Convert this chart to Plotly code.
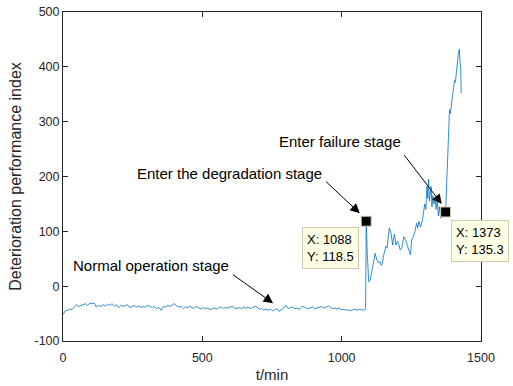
import plotly.graph_objects as go

# ---------------- data ----------------
t_normal = [0, 8, 16, 24, 32, 40, 48, 56, 64, 72,
            80, 88, 96, 104, 112, 120, 128, 136, 144, 152,
            160, 168, 176, 184, 192, 200, 208, 216, 224, 232,
            240, 248, 256, 264, 272, 280, 288, 296, 304, 312,
            320, 328, 336, 344, 352, 360, 368, 376, 384, 392,
            400, 408, 416, 424, 432, 440, 448, 456, 464, 472,
            480, 488, 496, 504, 512, 520, 528, 536, 544, 552,
            560, 568, 576, 584, 592, 600, 608, 616, 624, 632,
            640, 648, 656, 664, 672, 680, 688, 696, 704, 712,
            720, 728, 736, 744, 752, 760, 768, 776, 784, 792,
            800, 808, 816, 824, 832, 840, 848, 856, 864, 872,
            880, 888, 896, 904, 912, 920, 928, 936, 944, 952,
            960, 968, 976, 984, 992, 1000, 1008, 1016, 1024, 1032,
            1040, 1048, 1056, 1064, 1072, 1080, 1086]
v_normal = [-52, -45, -44, -42, -43, -38, -34, -37, -35, -33,
            -32, -35, -31, -32, -31, -38, -35, -37, -34, -36,
            -33, -35, -32, -36, -34, -39, -35, -37, -36, -34,
            -39, -37, -35, -38, -36, -39, -37, -38, -35, -37,
            -39, -37, -41, -39, -44, -37, -38, -35, -37, -34,
            -32, -36, -38, -37, -41, -38, -39, -36, -40, -39,
            -37, -40, -42, -39, -41, -40, -43, -41, -40, -42,
            -39, -38, -41, -39, -40, -38, -37, -40, -41, -39,
            -41, -38, -40, -38, -41, -39, -37, -38, -42, -41,
            -43, -42, -44, -42, -45, -43, -41, -46, -43, -40,
            -35, -41, -39, -38, -41, -40, -42, -38, -37, -40,
            -41, -39, -38, -41, -40, -38, -37, -40, -38, -36,
            -39, -41, -40, -42, -40, -43, -42, -44, -43, -45,
            -43, -42, -44, -42, -43, -44, -42]

t_degrade = [1088, 1092, 1097, 1102, 1106, 1111, 1115, 1120, 1126, 1132,
             1137, 1142, 1146, 1150, 1154, 1159, 1163, 1166, 1171, 1177,
             1183, 1189, 1195, 1200, 1204, 1210, 1216, 1223, 1230, 1237,
             1243, 1247, 1251, 1257, 1263, 1269, 1273, 1277, 1283, 1289,
             1294, 1298, 1302, 1306, 1309, 1312, 1315, 1318, 1321, 1324,
             1327, 1331, 1335, 1339, 1343, 1347, 1351, 1355, 1359, 1364,
             1368]
v_degrade = [118.5, 60, 8, 10, 20, 30, 45, 60, 48, 42,
             45, 38, 42, 55, 66, 73, 70, 90, 106, 97,
             75, 95, 75, 82, 78, 66, 70, 90, 84, 72,
             60, 57, 84, 90, 100, 115, 106, 118, 108, 118,
             135, 150, 140, 182, 160, 195, 155, 170, 182, 145,
             165, 150, 160, 140, 158, 128, 145, 124, 140, 142,
             130]

t_failure = [1373, 1376, 1380, 1384, 1387, 1390, 1393, 1397, 1401, 1405,
             1408, 1412, 1416, 1419, 1422, 1425, 1427, 1429]
v_failure = [135.3, 180, 240, 300, 322, 315, 335, 345, 360, 375,
             372, 395, 405, 425, 432, 410, 395, 352]

tip_t = [1088, 1373]
tip_v = [118.5, 135.3]

x_ticks = [0, 500, 1000, 1500]
x_ticktext = ["0", "500", "1000", "1500"]
y_ticks = [-100, 0, 100, 200, 300, 400, 500]
y_ticktext = ["-100", "0", "100", "200", "300", "400", "500"]

t_all = t_normal + t_degrade + t_failure
v_all = v_normal + v_degrade + v_failure

FONT = "Arial, Liberation Sans, Helvetica, sans-serif"
AX = "#262626"

fig = go.Figure()
fig.add_trace(go.Scatter(x=t_all, y=v_all, mode="lines",
                         line=dict(color="#0072BD", width=0.8),
                         showlegend=False, hoverinfo="skip"))
fig.add_trace(go.Scatter(x=tip_t, y=tip_v, mode="markers",
                         marker=dict(symbol="square", size=10, color="black",
                                     line=dict(color="#d9d2a6", width=1)),
                         showlegend=False, cliponaxis=False))

# arrows (tail -> head in data coords)
arrows = [((604, 23), (754, -31)),
          ((939, 193), (1065, 133)),
          ((1220, 242), (1359, 150))]
for (tx, ty), (hx, hy) in arrows:
    fig.add_annotation(x=hx, y=hy, ax=tx, ay=ty, axref="x", ayref="y",
                       xref="x", yref="y", text="", showarrow=True,
                       arrowhead=2, arrowsize=1.9, arrowwidth=1,
                       arrowcolor="black", standoff=0, startstandoff=0)

labels = [("Normal operation stage", 30, 38),
          ("Enter the degradation stage", 257, 206),
          ("Enter failure stage", 769, 263)]
for txt, lx, ly in labels:
    fig.add_annotation(x=lx, y=ly, xref="x", yref="y", text=txt,
                       showarrow=False, xanchor="left", yanchor="middle",
                       font=dict(family=FONT, size=15, color="black"))

# data tips
fig.add_annotation(x=1062, y=108, xref="x", yref="y",
                   text="X: 1088<br>Y: 118.5", showarrow=False,
                   xanchor="right", yanchor="top", align="left",
                   bgcolor="#ffffe6", bordercolor="#cfc9b0", borderwidth=1,
                   borderpad=4, font=dict(family=FONT, size=13, color="black"))
fig.add_annotation(x=1394, y=121.5, xref="x", yref="y",
                   text="X: 1373<br>Y: 135.3", showarrow=False,
                   xanchor="left", yanchor="top", align="left",
                   bgcolor="#ffffe6", bordercolor="#cfc9b0", borderwidth=1,
                   borderpad=4, font=dict(family=FONT, size=13, color="black"))

axis_common = dict(showline=True, linecolor=AX, linewidth=1, mirror="ticks",
                   ticks="inside", ticklen=5, tickwidth=1, tickcolor=AX,
                   showgrid=False, zeroline=False, automargin=False,
                   tickfont=dict(family=FONT, size=12.5, color=AX))

fig.update_xaxes(range=[0, 1500], tickvals=x_ticks, ticktext=x_ticktext,
                 ticklabelstandoff=5,
                 title=dict(text="t/min", font=dict(family=FONT, size=15, color=AX),
                            standoff=5),
                 **axis_common)
fig.update_yaxes(range=[-100, 500], tickvals=y_ticks, ticktext=y_ticktext,
                 title=dict(text="Deterioration performance index",
                            font=dict(family=FONT, size=16, color=AX), standoff=8),
                 **axis_common)

fig.update_layout(width=513, height=386,
                  margin=dict(l=63, r=32, t=12, b=45),
                  paper_bgcolor="white", plot_bgcolor="white",
                  font=dict(family=FONT))

fig.write_html("out.html")
